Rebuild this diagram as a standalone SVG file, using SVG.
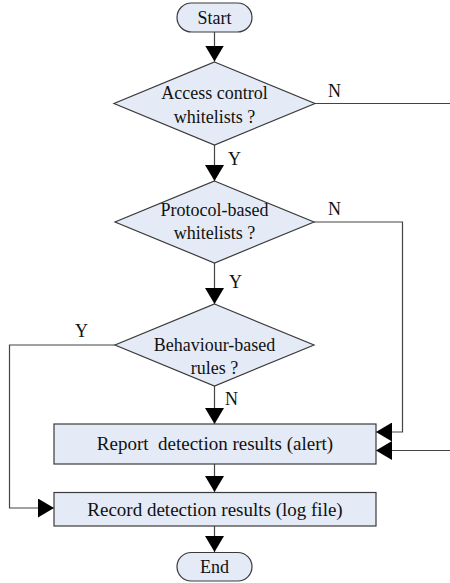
<svg xmlns="http://www.w3.org/2000/svg" width="450" height="583" viewBox="0 0 450 583">
<style>
.shape{fill:#e4ebf6;stroke:#3a3a3a;stroke-width:1.2}
.line{fill:none;stroke:#444;stroke-width:1.2}
text{font-family:"Liberation Serif","Times New Roman",serif;font-size:18px;fill:#111}
.c{text-anchor:middle}
.big{font-size:19px}
</style>
<defs>
<marker id="ah" viewBox="0 0 16 19" refX="16" refY="9.5" markerWidth="16" markerHeight="19" markerUnits="userSpaceOnUse" orient="auto">
<path d="M0,0 L16,9.5 L0,19 Z" fill="#000"/>
</marker>
</defs>
<rect width="450" height="583" fill="#fff"/>
<g id="connectors">
<path class="line" d="M214.5,32 V61.5" marker-end="url(#ah)"/>
<path class="line" d="M214.5,145 V181" marker-end="url(#ah)"/>
<path class="line" d="M214.5,263 V304" marker-end="url(#ah)"/>
<path class="line" d="M214.5,386 V424" marker-end="url(#ah)"/>
<path class="line" d="M214.5,464 V492" marker-end="url(#ah)"/>
<path class="line" d="M214.5,526 V552" marker-end="url(#ah)"/>
<path class="line" d="M315,103.5 H450"/>
<path class="line" d="M314,222 H402.5 V432 H376" marker-end="url(#ah)"/>
<path class="line" d="M450,450.5 H376" marker-end="url(#ah)"/>
<path class="line" d="M115,345 H9.5 V508 H54" marker-end="url(#ah)"/>
<text x="328" y="97">N</text>
<text x="228" y="165">Y</text>
<text x="328" y="215">N</text>
<text x="229" y="288">Y</text>
<text x="75" y="337">Y</text>
<text x="225" y="405">N</text>
</g>
<g id="start">
<rect class="shape" x="177" y="3" width="75" height="29" rx="14.5"/>
<text class="c" x="214.5" y="24">Start</text>
</g>
<g id="access">
<polygon class="shape" points="214.5,62 315,103.5 214.5,145 114,103.5"/>
<text class="c" x="214.5" y="99">Access control</text>
<text class="c" x="214.5" y="123">whitelists ?</text>
</g>
<g id="protocol">
<polygon class="shape" points="214.5,181 314,222 214.5,263 115,222"/>
<text class="c" x="214.5" y="216">Protocol-based</text>
<text class="c" x="214.5" y="239">whitelists ?</text>
</g>
<g id="behaviour">
<polygon class="shape" points="214.5,304 314,345 214.5,386 115,345"/>
<text class="c" x="214.5" y="351">Behaviour-based</text>
<text class="c" x="214.5" y="374">rules ?</text>
</g>
<g id="report">
<rect class="shape" x="54" y="424" width="322" height="40"/>
<text class="c big" x="215" y="450" xml:space="preserve">Report  detection results (alert)</text>
</g>
<g id="record">
<rect class="shape" x="54" y="492.5" width="322" height="33.5"/>
<text class="c big" x="215" y="516">Record detection results (log file)</text>
</g>
<g id="end">
<rect class="shape" x="177" y="552.5" width="75" height="28.5" rx="14.25"/>
<text class="c" x="214.5" y="573">End</text>
</g>
</svg>
